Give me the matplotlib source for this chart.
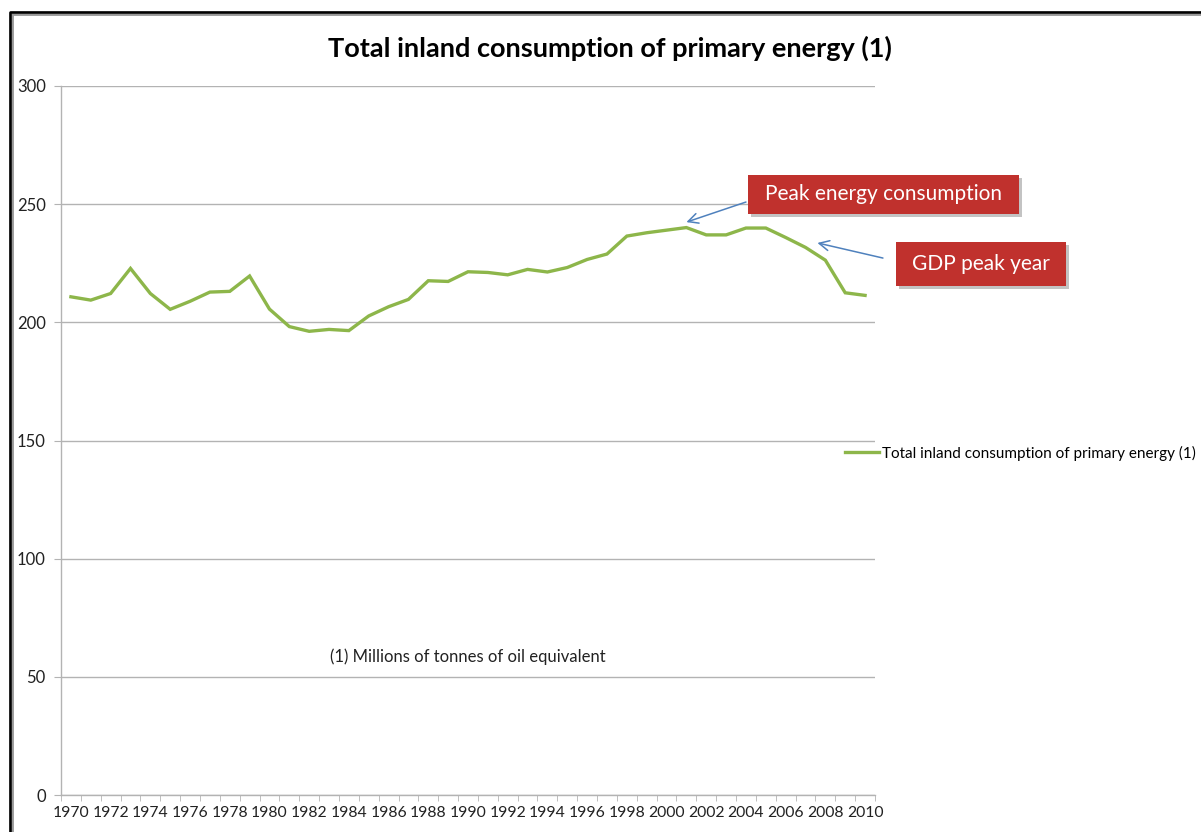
import numpy as np
import matplotlib
matplotlib.use("Agg")
import matplotlib.pyplot as plt
import matplotlib.patheffects as pe
from matplotlib.lines import Line2D
from matplotlib.patches import Rectangle

plt.rcParams['font.family'] = ['Lato', 'DejaVu Sans']

# ── Data (Mtoe) ─────────────────────────────────────
years = list(range(1970, 2011))
consumption = [
    210.8, 209.4, 212.2, 222.8, 212.2, 205.5, 208.9, 212.8, 213.1, 219.6,
    205.6, 198.2, 196.2, 197.0, 196.5, 202.7, 206.6, 209.7, 217.6, 217.3,
    221.4, 221.1, 220.1, 222.4, 221.3, 223.2, 226.6, 228.9, 236.5, 237.9,
    239.0, 240.1, 237.0, 237.0, 239.9, 239.9, 235.9, 231.7, 226.3, 212.5,
    211.4,
]
series_name = 'Total inland consumption of primary energy (1)'
title = 'Total inland consumption of primary energy (1)'
note = '(1) Millions of tonnes of oil equivalent'
y_ticks = [0, 50, 100, 150, 200, 250, 300]
x_labels = years[::2]

W, H = 1201, 832
fig = plt.figure(figsize=(W / 100, H / 100), dpi=100)
ax = fig.add_axes([61 / W, 1 - 795 / H, (875 - 61) / W, (795 - 86) / H])

grid_c = '#b3b3b3'
ax.plot(years, consumption, color='#8db64a', lw=2.4, solid_joinstyle='miter',
        label=series_name, zorder=3)

ax.set_xlim(years[0] - 0.5, years[-1] + 0.5)
ax.set_ylim(0, 300)
ax.set_yticks(y_ticks)
ax.yaxis.grid(True, color=grid_c, lw=1)
ax.set_axisbelow(True)

ax.set_xticks(x_labels)
ax.set_xticklabels([str(y) for y in x_labels])
ax.set_xticks(np.arange(years[0] - 0.5, years[-1] + 1), minor=True)
ax.tick_params(axis='x', which='major', length=0, pad=8, labelsize=11.3,
               colors='#222222')
ax.tick_params(axis='x', which='minor', length=4, color=grid_c, direction='out')
ax.tick_params(axis='y', length=5, color=grid_c, pad=6, labelsize=12,
               colors='#222222')
for s in ('top', 'right'):
    ax.spines[s].set_visible(False)
for s in ('left', 'bottom'):
    ax.spines[s].set_color(grid_c)
    ax.spines[s].set_linewidth(1)

fig.text(610 / W, 1 - 48 / H, title, ha='center', va='center',
         fontsize=19.5, fontweight='bold', color='black')

ax.text(1990, 58.5, note, ha='center', va='center', fontsize=12, color='#222222')

ax.legend(loc='center left', bbox_to_anchor=(845 / W, 1 - 453 / H),
          bbox_transform=fig.transFigure, frameon=False, fontsize=11,
          handlelength=2.2, handletextpad=0.2, borderpad=0, borderaxespad=0)

# ── Callout boxes with arrows ─────────────────────────
shadow = [pe.SimplePatchShadow(offset=(2, -2), alpha=0.35, shadow_rgbFace='#555555'),
          pe.Normal()]
callouts = [
    ('Peak energy consumption', (748, 175, 1019, 214)),
    ('GDP peak year', (896, 242, 1066, 286)),
]
for label, (x0, y0, x1, y1) in callouts:
    rect = Rectangle((x0 / W, 1 - y1 / H), (x1 - x0) / W, (y1 - y0) / H,
                     transform=fig.transFigure, facecolor='#c0312d',
                     edgecolor='none', zorder=5)
    rect.set_path_effects(shadow)
    fig.add_artist(rect)
    fig.text((x0 + x1) / 2 / W, 1 - (y0 + y1) / 2 / H, label, ha='center',
             va='center', fontsize=15, color='white', zorder=6)

arrow_kw = dict(arrowstyle='->', color='#4f81bd', lw=1.1, mutation_scale=18,
                shrinkA=0, shrinkB=0)
ax.annotate('', xy=(2001.0, 242.4), xytext=(2004.0, 250.9),
            arrowprops=arrow_kw, annotation_clip=False)
ax.annotate('', xy=(2007.6, 233.6), xytext=(2010.9, 227.2),
            arrowprops=arrow_kw, annotation_clip=False)

# ── Outer frame (left and top edges) ─────────────────
fig.add_artist(Line2D([11 / W, 11 / W, 1.0], [0.0, 1 - 13 / H, 1 - 13 / H],
                      transform=fig.transFigure, color='#999999', lw=3.5))
fig.add_artist(Line2D([10 / W, 10 / W, 1.0], [0.0, 1 - 12 / H, 1 - 12 / H],
                      transform=fig.transFigure, color='black', lw=1.8))

fig.savefig('out.png', dpi=100)
